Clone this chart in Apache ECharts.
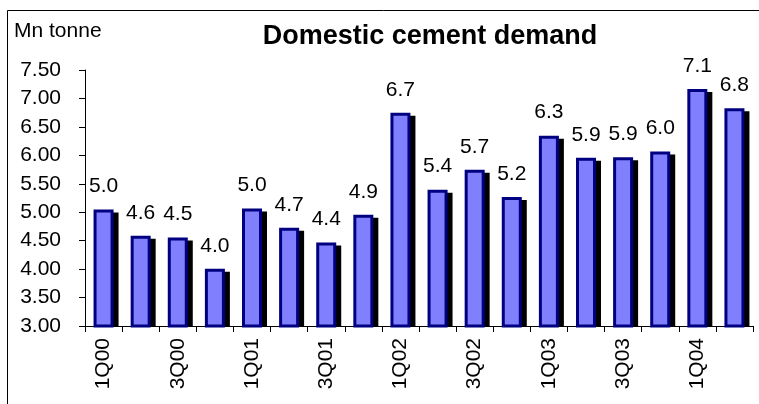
<!DOCTYPE html>
<html>
<head>
<meta charset="utf-8">
<script src="https://cdn.jsdelivr.net/npm/echarts@6/dist/echarts.min.js"></script>
<style>
html,body{margin:0;padding:0;background:#fff;}
#chart{width:759px;height:404px;}
</style>
</head>
<body>
<div id="chart"></div>
<script>
var categories = ['1Q00','2Q00','3Q00','4Q00','1Q01','2Q01','3Q01','4Q01','1Q02','2Q02','3Q02','4Q02','1Q03','2Q03','3Q03','4Q03','1Q04','2Q04'];
var demand = [5.02, 4.56, 4.53, 3.98, 5.04, 4.70, 4.44, 4.93, 6.72, 5.37, 5.72, 5.24, 6.32, 5.93, 5.94, 6.04, 7.14, 6.80];
var yTicks = {min: 3, max: 7.5, step: 0.5};
var titleText = 'Domestic cement demand';
var unitText = 'Mn tonne';

var chart = echarts.init(document.getElementById('chart'), null, {renderer: 'canvas'});
var font = 'Liberation Sans, Arial, sans-serif';
var seriesData = demand.map(function(v, i){ return [i, v]; });

function renderBar(params, api) {
  var i = api.value(0), v = api.value(1);
  var top = api.coord([i, v]);
  var base = api.coord([i, yTicks.min]);
  var cx = top[0];
  var w = 17;
  var h = base[1] - top[1];
  return {
    type: 'group',
    children: [
      {type: 'rect', shape: {x: cx - w/2 + 5 - 1.5, y: top[1] + 3 - 1.5, width: w + 3, height: h - 3 + 1.5}, style: {fill: '#000'}},
      {type: 'rect', shape: {x: cx - w/2, y: top[1], width: w, height: h}, style: {fill: '#8080FF', stroke: '#000080', lineWidth: 3}},
      {type: 'text', style: {text: v.toFixed(1), x: cx, y: top[1] - 14, textAlign: 'center', textVerticalAlign: 'bottom', font: '21px ' + font, fill: '#000'}}
    ]
  };
}

chart.setOption({
  animation: false,
  backgroundColor: '#fff',
  graphic: [
    {type: 'rect', shape: {x: 7.5, y: 10.5, width: 800, height: 500}, style: {fill: 'none', stroke: '#000', lineWidth: 1}, z: -1},
    {type: 'text', left: 14, top: 21, style: {text: unitText, font: '21px ' + font, fill: '#000'}},
    {type: 'text', x: 430, y: 23, style: {text: titleText, font: 'bold 27px ' + font, fill: '#000', textAlign: 'center'}}
  ],
  grid: {left: 85, top: 70, width: 668, height: 256, containLabel: false},
  xAxis: {
    type: 'category',
    data: categories,
    boundaryGap: true,
    axisLine: {lineStyle: {color: '#000', width: 1}},
    axisTick: {show: true, interval: 0, length: 6, lineStyle: {color: '#000'}},
    axisLabel: {interval: 1, rotate: 90, margin: 12, color: '#000', fontSize: 21, fontFamily: font}
  },
  yAxis: {
    type: 'value',
    min: yTicks.min, max: yTicks.max, interval: yTicks.step,
    splitLine: {show: false},
    axisLine: {show: true, lineStyle: {color: '#000', width: 1}},
    axisTick: {show: true, length: 6, lineStyle: {color: '#000'}},
    axisLabel: {margin: 24, color: '#000', fontSize: 21, fontFamily: font, formatter: function(v){return v.toFixed(2);}}
  },
  series: [{
    type: 'custom',
    data: seriesData,
    encode: {x: 0, y: 1},
    renderItem: renderBar,
    z: 3
  }]
});
</script>
</body>
</html>
